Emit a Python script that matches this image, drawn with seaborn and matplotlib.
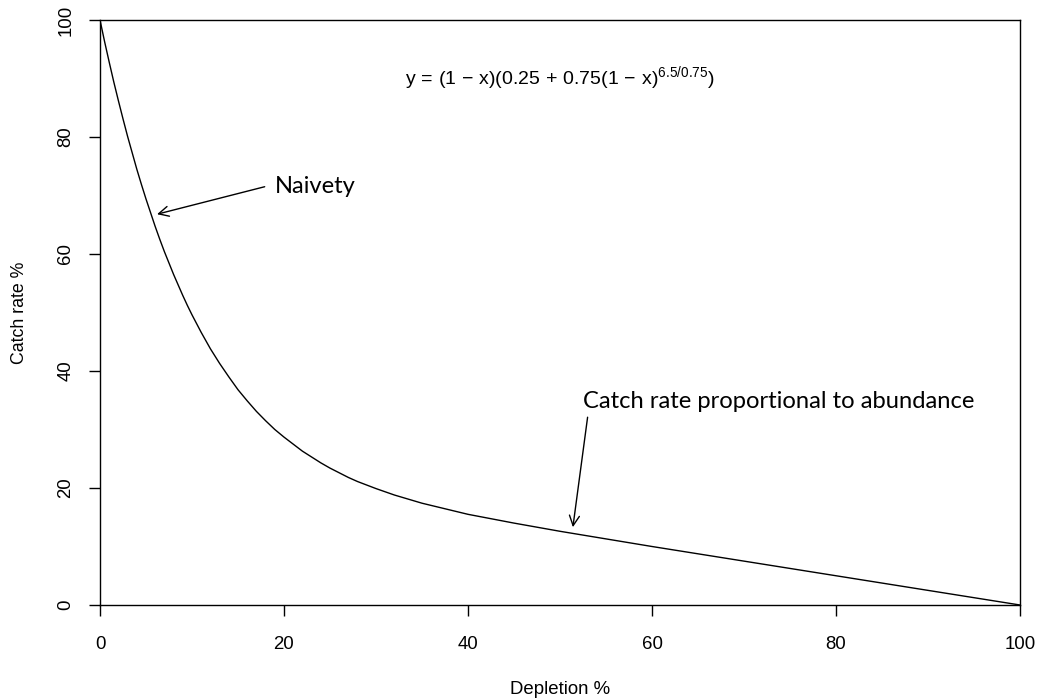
import matplotlib
matplotlib.use("Agg")
import matplotlib.pyplot as plt
import seaborn as sns
import pandas as pd

# Values (Depletion %, Catch rate %)
depletion = [0, 0.5, 1, 1.5, 2, 2.5, 3, 3.5, 4, 4.5, 5, 6, 6.5, 7, 8, 8.5, 9, 9.5, 10,
             11, 12, 13, 14, 15, 16, 17, 18, 19, 20, 22, 24, 25, 27, 28, 30, 32,
             35, 40, 45, 50, 55, 60, 70, 80, 90, 100]
catch_rate = [100, 96.3, 92.8, 89.4, 86.2, 83.1, 80.1, 77.3, 74.5, 71.9, 69.4, 64.7,
              62.5, 60.4, 56.5, 54.7, 52.9, 51.2, 49.6, 46.6, 43.8, 41.3, 39.0, 36.8,
              34.9, 33.1, 31.5, 30.0, 28.7, 26.3, 24.3, 23.4, 21.8, 21.1, 19.9, 18.8,
              17.4, 15.5, 14.0, 12.6, 11.3, 10.0, 7.5, 5.0, 2.5, 0.0]
x_ticks = [0, 20, 40, 60, 80, 100]
y_ticks = [0, 20, 40, 60, 80, 100]

sns.set_style("white")
plt.rcParams['font.family'] = ['Liberation Sans', 'DejaVu Sans']
plt.rcParams['mathtext.fontset'] = 'custom'
plt.rcParams['mathtext.rm'] = 'Liberation Sans'
plt.rcParams['mathtext.it'] = 'Liberation Sans'
plt.rcParams['mathtext.bf'] = 'Liberation Sans:bold'
plt.rcParams['text.color'] = 'black'
plt.rcParams['axes.labelcolor'] = 'black'
plt.rcParams['xtick.color'] = 'black'
plt.rcParams['ytick.color'] = 'black'

df = pd.DataFrame({"Depletion %": depletion, "Catch rate %": catch_rate})

fig = plt.figure(figsize=(10.38, 7.0), dpi=100)
ax = fig.add_axes([100 / 1038, 95 / 700, 920 / 1038, 585 / 700])

sns.lineplot(data=df, x="Depletion %", y="Catch rate %", ax=ax, color="black", linewidth=1.0)

ax.set_xlim(0, 100)
ax.set_ylim(0, 100)
ax.set_xticks(x_ticks)
ax.set_yticks(y_ticks)
ax.set_xticklabels([str(v) for v in x_ticks], fontsize=13.4)
ax.set_yticklabels([str(v) for v in y_ticks], fontsize=13.4, rotation=90, va="center")
ax.tick_params(axis="x", bottom=True, direction="out", length=8, width=1, pad=14,
               colors="black", labelcolor="black")
ax.tick_params(axis="y", left=True, direction="out", length=8, width=1, pad=10.5,
               colors="black", labelcolor="black")
for s in ax.spines.values():
    s.set_visible(True)
    s.set_color("black")
    s.set_linewidth(1.0)

ax.set_xlabel("Depletion %", fontsize=13.4, color="black")
ax.set_ylabel("Catch rate %", fontsize=12.8, color="black")
ax.xaxis.set_label_coords(0.5, -0.145)
ax.xaxis.label.set_va("center")
ax.yaxis.set_label_coords(-0.087, 0.5)
ax.yaxis.label.set_va("center")
ax.yaxis.label.set_ha("center")

ax.text(50, 90.1, r"$y\,=\,(1\,-\,x)(0.25\,+\,0.75(1\,-\,x)^{6.5/0.75})$",
        ha="center", va="center", fontsize=14, color="black")

arrow = dict(arrowstyle="->", color="black", lw=1.0, mutation_scale=18, shrinkA=0, shrinkB=0)
ax.annotate("", xy=(6.2, 66.8), xytext=(17.9, 71.5), arrowprops=arrow)
ax.text(19.0, 71.5, "Naivety", ha="left", va="center", fontsize=17,
        family=["Lato", "DejaVu Sans"], color="black")
ax.annotate("", xy=(51.4, 13.3), xytext=(53.0, 32.1), arrowprops=arrow)
ax.text(52.5, 34.8, "Catch rate proportional to abundance", ha="left", va="center",
        fontsize=17.1, family=["Lato", "DejaVu Sans"], color="black")

fig.savefig("out.png", dpi=100, facecolor="white")
